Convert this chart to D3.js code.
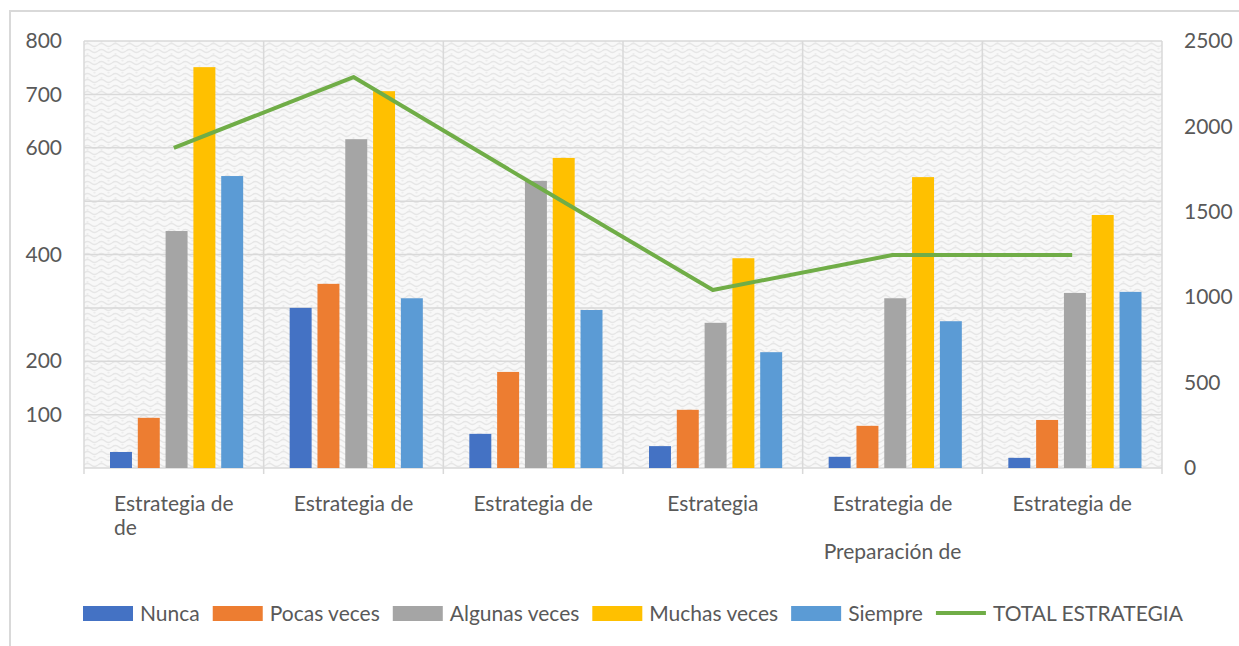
<!DOCTYPE html>
<html>
<head>
<meta charset="utf-8">
<script src="https://cdn.jsdelivr.net/npm/d3@7"></script>
<style>
  body { margin: 0; background: #fff; }
  text { font-family: Lato, "Open Sans", sans-serif; fill: #595959; }
</style>
</head>
<body>
<div id="chart"></div>
<script>
"use strict";

// data
const categories = ["Estrategia de|de", "Estrategia de", "Estrategia de", "Estrategia", "Estrategia de||Preparación de", "Estrategia de"];
const seriesNames = ["Nunca", "Pocas veces", "Algunas veces", "Muchas veces", "Siempre"];
const nunca = [30, 300, 64, 41, 21, 19];
const pocas = [94, 345, 180, 109, 79, 90];
const algunas = [444, 616, 538, 272, 318, 328];
const muchas = [751, 706, 581, 393, 545, 474];
const siempre = [547, 318, 296, 217, 275, 330];
const totalEstrategia = [1874, 2289, 1663, 1042, 1247, 1247];
const lineName = "TOTAL ESTRATEGIA";
const leftTicks = [100, 200, 400, 600, 700, 800];
const leftGrid = [100, 200, 300, 400, 500, 600, 700, 800];
const rightTicks = [0, 500, 1000, 1500, 2000, 2500];

const colors = ["#4472C4", "#ED7D31", "#A5A5A5", "#FFC000", "#5B9BD5"];
const lineColor = "#70AD47";
const fontSize = "21px";

const size = {
    width: 1239,
    height: 646,
    left: 84,
    right: 1162,
    top: 41,
    bottom: 468
};

const svg = d3.select("#chart").append("svg")
    .attr("width", size.width)
    .attr("height", size.height);

// outer frame (only left and top edges show)
svg.append("path")
    .attr("d", "M10,646 V11 H1239")
    .attr("fill", "none")
    .attr("stroke", "#d9d9d9")
    .attr("stroke-width", 2);

// textured plot background
const defs = svg.append("defs");
const pat = defs.append("pattern")
    .attr("id", "tex")
    .attr("patternUnits", "userSpaceOnUse")
    .attr("width", 14)
    .attr("height", 12);
pat.append("rect").attr("width", 14).attr("height", 12).attr("fill", "#f8f8f8");
pat.append("path")
    .attr("d", "M0,3 Q3.5,0 7,3 T14,3 M0,9 Q3.5,6 7,9 T14,9")
    .attr("fill", "none")
    .attr("stroke", "#e6e6e6")
    .attr("stroke-width", 1.3);
pat.append("circle").attr("cx", 3.5).attr("cy", 6).attr("r", 1.1).attr("fill", "#ececec");
pat.append("circle").attr("cx", 10.5).attr("cy", 0.5).attr("r", 1.1).attr("fill", "#ececec");

svg.append("rect")
    .attr("x", size.left)
    .attr("y", size.top)
    .attr("width", size.right - size.left)
    .attr("height", size.bottom - size.top)
    .attr("fill", "url(#tex)");

const x0 = d3.scaleBand()
    .domain(d3.range(categories.length))
    .range([size.left, size.right]);

const x1 = d3.scaleBand()
    .domain(seriesNames)
    .range([26, x0.bandwidth() - 26 + 5.5])
    .paddingInner(0.21);

const yLeft = d3.scaleLinear().domain([0, 800]).range([size.bottom, size.top]);
const yRight = d3.scaleLinear().domain([0, 2500]).range([size.bottom, size.top]);

// gridlines
svg.append("g").selectAll("line")
    .data(leftGrid)
    .enter().append("line")
    .attr("x1", size.left).attr("x2", size.right)
    .attr("y1", d => yLeft(d)).attr("y2", d => yLeft(d))
    .attr("stroke", "#d9d9d9").attr("stroke-width", 1.5);

svg.append("g").selectAll("line")
    .data(d3.range(categories.length + 1))
    .enter().append("line")
    .attr("x1", d => size.left + d * x0.step()).attr("x2", d => size.left + d * x0.step())
    .attr("y1", size.top).attr("y2", size.bottom + 6)
    .attr("stroke", "#d9d9d9").attr("stroke-width", 1.5);

svg.append("line")
    .attr("x1", size.left).attr("x2", size.right)
    .attr("y1", size.bottom).attr("y2", size.bottom)
    .attr("stroke", "#d9d9d9").attr("stroke-width", 1.5);

// bars
const allSeries = [nunca, pocas, algunas, muchas, siempre];
const barGroups = svg.append("g").selectAll("g")
    .data(allSeries)
    .enter().append("g")
    .attr("fill", (d, i) => colors[i]);

barGroups.selectAll("rect")
    .data((vals, si) => vals.map((v, ci) => ({ v: v, ci: ci, s: seriesNames[si] })))
    .enter().append("rect")
    .attr("x", d => x0(d.ci) + x1(d.s))
    .attr("width", x1.bandwidth())
    .attr("y", d => yLeft(d.v))
    .attr("height", d => yLeft(0) - yLeft(d.v));

// total line on right axis
const line = d3.line()
    .x((d, i) => x0(i) + x0.bandwidth() / 2)
    .y(d => yRight(d));

svg.append("path")
    .datum(totalEstrategia)
    .attr("d", line)
    .attr("fill", "none")
    .attr("stroke", lineColor)
    .attr("stroke-width", 4)
    .attr("stroke-linejoin", "round");

// axes labels
const leftAxis = d3.axisLeft(yLeft).tickValues(leftTicks).tickSize(0).tickPadding(22);
const gl = svg.append("g")
    .attr("transform", "translate(" + size.left + ",0)")
    .call(leftAxis);
gl.select(".domain").remove();
gl.selectAll("text").style("font-size", fontSize).attr("fill", "#595959").attr("font-family", "Lato");

const rightAxis = d3.axisRight(yRight).tickValues(rightTicks).tickFormat(d3.format("d"))
    .tickSize(0).tickPadding(22);
const gr = svg.append("g")
    .attr("transform", "translate(" + size.right + ",0)")
    .call(rightAxis);
gr.select(".domain").remove();
gr.selectAll("text").style("font-size", fontSize).attr("fill", "#595959").attr("font-family", "Lato");

// category labels (multi-line, left aligned block centred on band)
categories.forEach(function (c, i) {
    const lines = c.split("|");
    const g = svg.append("g");
    const t = g.append("text")
        .style("font-size", fontSize);
    lines.forEach(function (ln, j) {
        t.append("tspan")
            .attr("x", 0)
            .attr("y", 511 + j * 24)
            .text(ln);
    });
    const firstW = t.select("tspan").node().getComputedTextLength();
    g.attr("transform", "translate(" + (x0(i) + x0.bandwidth() / 2 - firstW / 2) + ",0)");
    // last line of the 5th label sits centred on its own
    if (lines.length > 2) {
        const last = t.selectAll("tspan").filter((d, k) => k === lines.length - 1);
        const lw = last.node().getComputedTextLength();
        last.attr("x", firstW / 2 - lw / 2);
    }
});

// legend
const legendItems = seriesNames.map((n, i) => ({ name: n, color: colors[i], type: "bar" }))
    .concat([{ name: lineName, color: lineColor, type: "line" }]);

let lx = 83;
const legend = svg.append("g");
legendItems.forEach(function (it) {
    if (it.type === "bar") {
        legend.append("rect")
            .attr("x", lx).attr("y", 606)
            .attr("width", 50).attr("height", 15)
            .attr("fill", it.color);
    } else {
        legend.append("line")
            .attr("x1", lx).attr("x2", lx + 50)
            .attr("y1", 613).attr("y2", 613)
            .attr("stroke", it.color).attr("stroke-width", 4);
    }
    const t = legend.append("text")
        .attr("x", lx + 57)
        .attr("y", 621)
        .style("font-size", fontSize)
        .text(it.name);
    lx += 57 + t.node().getComputedTextLength() + 13;
});
</script>
</body>
</html>
